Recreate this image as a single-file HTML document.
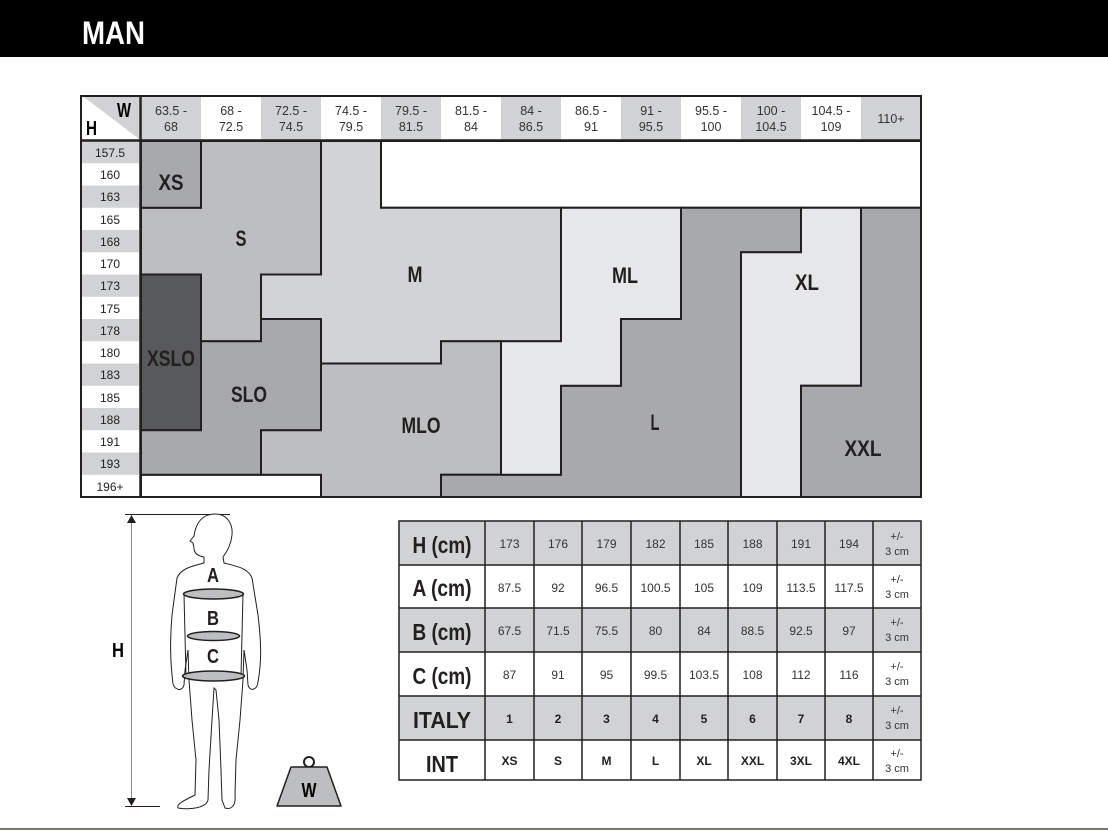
<!DOCTYPE html>
<html><head><meta charset="utf-8">
<style>
html,body{margin:0;padding:0;background:#fff;}
body{width:1108px;height:831px;position:relative;overflow:hidden;font-family:"Liberation Sans",sans-serif;}
.hdr{position:absolute;left:0;top:0;width:1108px;height:57px;background:#000;}
svg{position:absolute;left:0;top:0;}
</style></head><body>
<div class="hdr"></div>
<svg width="1108" height="831" viewBox="0 0 1108 831" xmlns="http://www.w3.org/2000/svg">
<g font-family="Liberation Sans, sans-serif">
<text x="82" y="44" fill="#fff" font-weight="bold" font-size="32" textLength="63" lengthAdjust="spacingAndGlyphs">MAN</text>
<!-- header row cells -->
<rect x="81" y="96" width="840" height="45" fill="#fff"/>
<rect x="141" y="97" width="60" height="43" fill="#d1d2d4"/>
<rect x="261" y="97" width="60" height="43" fill="#d1d2d4"/>
<rect x="381" y="97" width="60" height="43" fill="#d1d2d4"/>
<rect x="501" y="97" width="60" height="43" fill="#d1d2d4"/>
<rect x="621" y="97" width="60" height="43" fill="#d1d2d4"/>
<rect x="741" y="97" width="60" height="43" fill="#d1d2d4"/>
<rect x="861" y="97" width="60" height="43" fill="#d1d2d4"/>
<polygon points="84,97 139,97 139,139" fill="#d1d2d4"/>
<text x="131" y="117" font-weight="bold" font-size="20" text-anchor="end" textLength="14" lengthAdjust="spacingAndGlyphs">W</text>
<text x="86" y="135" font-weight="bold" font-size="20" textLength="11" lengthAdjust="spacingAndGlyphs">H</text>
<g font-size="12.5" fill="#333" text-anchor="middle">
<text x="171" y="115">63.5 -</text><text x="171" y="131">68</text>
<text x="231" y="115">68 -</text><text x="231" y="131">72.5</text>
<text x="291" y="115">72.5 -</text><text x="291" y="131">74.5</text>
<text x="351" y="115">74.5 -</text><text x="351" y="131">79.5</text>
<text x="411" y="115">79.5 -</text><text x="411" y="131">81.5</text>
<text x="471" y="115">81.5 -</text><text x="471" y="131">84</text>
<text x="531" y="115">84 -</text><text x="531" y="131">86.5</text>
<text x="591" y="115">86.5 -</text><text x="591" y="131">91</text>
<text x="651" y="115">91 -</text><text x="651" y="131">95.5</text>
<text x="711" y="115">95.5 -</text><text x="711" y="131">100</text>
<text x="771" y="115">100 -</text><text x="771" y="131">104.5</text>
<text x="831" y="115">104.5 -</text><text x="831" y="131">109</text>
<text x="891" y="123">110+</text>
</g>
<!-- row labels -->
<g fill="#d1d2d4">
<rect x="82" y="141" width="57" height="22.25"/>
<rect x="82" y="185.5" width="57" height="22.25"/>
<rect x="82" y="230" width="57" height="22.25"/>
<rect x="82" y="274.5" width="57" height="22.25"/>
<rect x="82" y="319" width="57" height="22.25"/>
<rect x="82" y="363.5" width="57" height="22.25"/>
<rect x="82" y="408" width="57" height="22.25"/>
<rect x="82" y="452.5" width="57" height="22.25"/>
</g>
<g font-size="12" fill="#222" text-anchor="middle">
<text x="110" y="157">157.5</text>
<text x="110" y="179">160</text>
<text x="110" y="201">163</text>
<text x="110" y="224">165</text>
<text x="110" y="246">168</text>
<text x="110" y="268">170</text>
<text x="110" y="290">173</text>
<text x="110" y="313">175</text>
<text x="110" y="335">178</text>
<text x="110" y="357">180</text>
<text x="110" y="379">183</text>
<text x="110" y="402">185</text>
<text x="110" y="424">188</text>
<text x="110" y="446">191</text>
<text x="110" y="468">193</text>
<text x="110" y="491">196+</text>
</g>
<g stroke="#231f20" stroke-width="2" stroke-linejoin="miter">
<rect x="381" y="141" width="540" height="66.75" fill="#fff"/>
<rect x="141" y="474.75" width="180" height="22.25" fill="#fff"/>
<polygon fill="#bcbec0" points="141,207.75 201,207.75 201,141 321,141 321,274.5 261,274.5 261,341.25 201,341.25 201,274.5 141,274.5"/>
<rect x="141" y="141" width="60" height="66.75" fill="#a7a9ac"/>
<polygon fill="#d1d3d4" points="321,141 381,141 381,207.75 561,207.75 561,341.25 441,341.25 441,363.5 321,363.5 321,319 261,319 261,274.5 321,274.5"/>
<rect x="141" y="274.5" width="60" height="155.75" fill="#58595b"/>
<polygon fill="#a7a9ac" points="141,430.25 201,430.25 201,341.25 261,341.25 261,319 321,319 321,430.25 261,430.25 261,474.75 141,474.75"/>
<polygon fill="#bcbec0" points="321,363.5 441,363.5 441,341.25 501,341.25 501,474.75 441,474.75 441,497 321,497 321,474.75 261,474.75 261,430.25 321,430.25"/>
<polygon fill="#a7a9ac" points="681,207.75 801,207.75 801,252.25 741,252.25 741,497 441,497 441,474.75 561,474.75 561,385.75 621,385.75 621,319 681,319"/>
<polygon fill="#e6e7e8" points="561,207.75 681,207.75 681,319 621,319 621,385.75 561,385.75 561,474.75 501,474.75 501,341.25 561,341.25"/>
<polygon fill="#e6e7e8" points="801,207.75 861,207.75 861,385.75 801,385.75 801,497 741,497 741,252.25 801,252.25"/>
<polygon fill="#a7a9ac" points="861,207.75 921,207.75 921,497 801,497 801,385.75 861,385.75"/>
</g>
<rect x="81" y="96" width="840" height="401" fill="none" stroke="#231f20" stroke-width="2"/>
<line x1="81" y1="140.5" x2="921" y2="140.5" stroke="#231f20" stroke-width="2.5"/>
<line x1="140.5" y1="96" x2="140.5" y2="497" stroke="#231f20" stroke-width="2.5"/>
<g font-weight="bold" font-size="22" fill="#231f20" text-anchor="middle" lengthAdjust="spacingAndGlyphs">
<text x="171" y="190" textLength="25" lengthAdjust="spacingAndGlyphs">XS</text>
<text x="241" y="246" textLength="11" lengthAdjust="spacingAndGlyphs">S</text>
<text x="415" y="282" textLength="15" lengthAdjust="spacingAndGlyphs">M</text>
<text x="625" y="283" textLength="26" lengthAdjust="spacingAndGlyphs">ML</text>
<text x="807" y="290" textLength="24" lengthAdjust="spacingAndGlyphs">XL</text>
<text x="171" y="366" textLength="48" lengthAdjust="spacingAndGlyphs">XSLO</text>
<text x="249" y="402" textLength="36" lengthAdjust="spacingAndGlyphs">SLO</text>
<text x="421" y="433" textLength="39" lengthAdjust="spacingAndGlyphs">MLO</text>
<text x="655" y="430" textLength="9" lengthAdjust="spacingAndGlyphs">L</text>
<text x="863" y="456" textLength="37" lengthAdjust="spacingAndGlyphs">XXL</text>
</g>
<!-- figure -->
<line x1="125" y1="514.5" x2="230" y2="514.5" stroke="#231f20" stroke-width="1"/>
<line x1="125" y1="806.5" x2="160" y2="806.5" stroke="#231f20" stroke-width="1"/>
<line x1="131.5" y1="518" x2="131.5" y2="802" stroke="#888" stroke-width="1"/>
<polygon points="131.5,515 127,523 136,523" fill="#231f20"/>
<polygon points="131.5,806 127,798 136,798" fill="#231f20"/>
<text x="118" y="657" font-weight="bold" font-size="20" text-anchor="middle" textLength="12" lengthAdjust="spacingAndGlyphs">H</text>
<path d="M215,514 C228,514 233,525 232,535 C231,545 226,553 223,557 L224,563 C236,566 248,568 252,578 L258,615 C261,640 262,660 258,682 C257,690 250,692 248,685 L247,670 L244,650 L243,680 L240,720 L236,760 L235,795 C236,805 232,810 225,808 L222,800 L221,770 L219,720 L216,690 L214,688 L212,720 L209,770 L208,800 C206,808 190,810 178,808 C176,804 185,800 195,795 L196,760 L192,720 L189,680 L188,650 L185,670 L184,685 C182,692 175,690 173,684 C170,660 170,640 172,615 L177,578 C181,568 193,566 204,563 L204,557 C198,556 194,553 194,548 L193,543 L190,541 L194,536 C196,522 203,514 215,514 Z" fill="#fff" stroke="#231f20" stroke-width="1"/>
<line x1="184" y1="594" x2="186" y2="676" stroke="#231f20" stroke-width="1"/>
<line x1="243" y1="594" x2="241" y2="676" stroke="#231f20" stroke-width="1"/>
<ellipse cx="213.5" cy="594" rx="30" ry="5" fill="#bcbec0" stroke="#231f20" stroke-width="1.5"/>
<ellipse cx="213.5" cy="636" rx="26" ry="4.5" fill="#bcbec0" stroke="#231f20" stroke-width="1.5"/>
<ellipse cx="213.5" cy="676" rx="31" ry="5" fill="#bcbec0" stroke="#231f20" stroke-width="1.5"/>
<g font-weight="bold" font-size="20" text-anchor="middle" fill="#231f20">
<text x="213" y="582" textLength="12" lengthAdjust="spacingAndGlyphs">A</text>
<text x="213" y="625" textLength="12" lengthAdjust="spacingAndGlyphs">B</text>
<text x="213" y="663" textLength="12" lengthAdjust="spacingAndGlyphs">C</text>
</g>
<circle cx="309" cy="762" r="5" fill="#fff" stroke="#231f20" stroke-width="2"/>
<polygon points="291,767 327,767 341,806 277,806" fill="#bcbec0" stroke="#231f20" stroke-width="1.5" stroke-linejoin="round"/>
<text x="309" y="797" font-weight="bold" font-size="20" text-anchor="middle" textLength="15" lengthAdjust="spacingAndGlyphs">W</text>
<!-- bottom table -->
<g fill="#d1d2d4">
<rect x="399" y="521" width="522" height="44"/>
<rect x="399" y="608" width="522" height="44"/>
<rect x="399" y="696" width="522" height="44"/>
</g>
<g stroke="#231f20" stroke-width="1.5" fill="none">
<rect x="399" y="521" width="522" height="259"/>
<line x1="399" y1="565" x2="921" y2="565"/>
<line x1="399" y1="608" x2="921" y2="608"/>
<line x1="399" y1="652" x2="921" y2="652"/>
<line x1="399" y1="696" x2="921" y2="696"/>
<line x1="399" y1="740" x2="921" y2="740"/>
<line x1="485" y1="521" x2="485" y2="780"/>
<line x1="534" y1="521" x2="534" y2="780"/>
<line x1="582" y1="521" x2="582" y2="780"/>
<line x1="631" y1="521" x2="631" y2="780"/>
<line x1="680" y1="521" x2="680" y2="780"/>
<line x1="728" y1="521" x2="728" y2="780"/>
<line x1="777" y1="521" x2="777" y2="780"/>
<line x1="825" y1="521" x2="825" y2="780"/>
<line x1="873" y1="521" x2="873" y2="780"/>
</g>
<g font-weight="bold" font-size="23" text-anchor="middle" fill="#231f20">
<text x="442" y="553" textLength="59" lengthAdjust="spacingAndGlyphs">H (cm)</text>
<text x="442" y="596" textLength="59" lengthAdjust="spacingAndGlyphs">A (cm)</text>
<text x="442" y="640" textLength="59" lengthAdjust="spacingAndGlyphs">B (cm)</text>
<text x="442" y="684" textLength="59" lengthAdjust="spacingAndGlyphs">C (cm)</text>
<text x="442" y="728" textLength="58" lengthAdjust="spacingAndGlyphs">ITALY</text>
<text x="442" y="772" textLength="32" lengthAdjust="spacingAndGlyphs">INT</text>
</g>
<g font-size="12" text-anchor="middle" fill="#333">
<text x="509.5" y="548">173</text><text x="558" y="548">176</text><text x="606.5" y="548">179</text><text x="655.5" y="548">182</text><text x="704" y="548">185</text><text x="752.5" y="548">188</text><text x="801" y="548">191</text><text x="849" y="548">194</text>
<text x="509.5" y="592">87.5</text><text x="558" y="592">92</text><text x="606.5" y="592">96.5</text><text x="655.5" y="592">100.5</text><text x="704" y="592">105</text><text x="752.5" y="592">109</text><text x="801" y="592">113.5</text><text x="849" y="592">117.5</text>
<text x="509.5" y="635">67.5</text><text x="558" y="635">71.5</text><text x="606.5" y="635">75.5</text><text x="655.5" y="635">80</text><text x="704" y="635">84</text><text x="752.5" y="635">88.5</text><text x="801" y="635">92.5</text><text x="849" y="635">97</text>
<text x="509.5" y="679">87</text><text x="558" y="679">91</text><text x="606.5" y="679">95</text><text x="655.5" y="679">99.5</text><text x="704" y="679">103.5</text><text x="752.5" y="679">108</text><text x="801" y="679">112</text><text x="849" y="679">116</text>
</g>
<g font-size="12" font-weight="bold" text-anchor="middle" fill="#231f20">
<text x="509.5" y="723">1</text><text x="558" y="723">2</text><text x="606.5" y="723">3</text><text x="655.5" y="723">4</text><text x="704" y="723">5</text><text x="752.5" y="723">6</text><text x="801" y="723">7</text><text x="849" y="723">8</text>
<text x="509.5" y="765">XS</text><text x="558" y="765">S</text><text x="606.5" y="765">M</text><text x="655.5" y="765">L</text><text x="704" y="765">XL</text><text x="752.5" y="765">XXL</text><text x="801" y="765">3XL</text><text x="849" y="765">4XL</text>
</g>
<g font-size="11" text-anchor="middle" fill="#333">
<text x="897" y="540">+/-</text><text x="897" y="555">3 cm</text>
<text x="897" y="583">+/-</text><text x="897" y="598">3 cm</text>
<text x="897" y="626">+/-</text><text x="897" y="641">3 cm</text>
<text x="897" y="670">+/-</text><text x="897" y="685">3 cm</text>
<text x="897" y="714">+/-</text><text x="897" y="729">3 cm</text>
<text x="897" y="757">+/-</text><text x="897" y="772">3 cm</text>
</g>
<line x1="0" y1="829" x2="1108" y2="829" stroke="#4a4a3a" stroke-width="1.5"/>
</g>
</svg>
</body></html>
